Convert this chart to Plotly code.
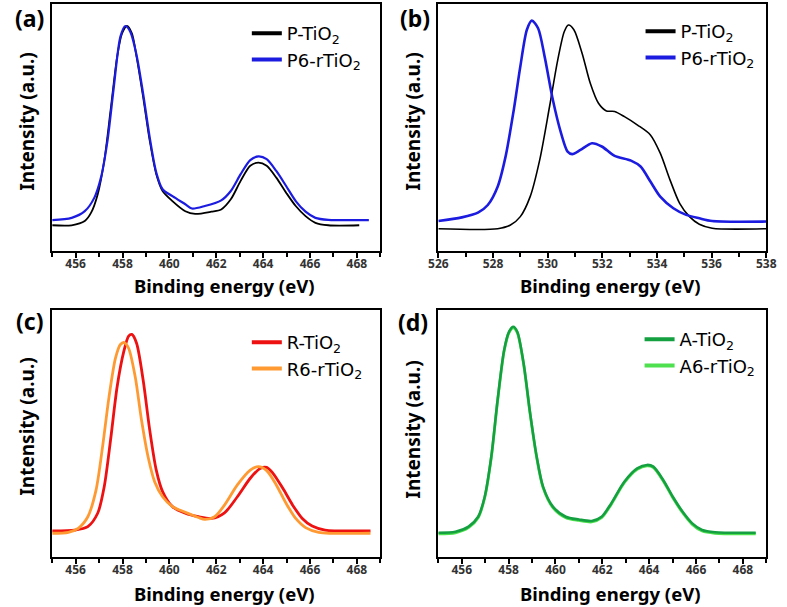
import plotly.graph_objects as go

# ---------------- data ----------------
# Panel (a): Ti 2p, P-TiO2 / P6-rTiO2
a_p_E = [455.0, 455.83, 456.39, 456.66, 456.94, 457.22, 457.49, 457.77, 457.98, 458.19,
         458.40, 458.60, 458.88, 459.16, 459.44, 459.71, 460.13, 460.68, 461.10, 461.79,
         462.21, 462.62, 463.04, 463.45, 463.80, 464.15, 464.56, 464.98, 465.39, 465.81,
         466.23, 466.78, 468.10]
a_p_I = [10.3, 10.3, 12.0, 15.4, 22.8, 36.4, 56.8, 78.5, 88.0, 91.0,
         88.0, 78.5, 62.2, 44.6, 31.0, 24.2, 20.1, 16.0, 14.9, 15.8,
         16.7, 20.8, 28.3, 34.4, 35.7, 34.4, 29.6, 23.5, 18.1, 14.0,
         11.3, 10.3, 10.3]
a_r_E = [455.0, 455.83, 456.39, 456.80, 457.08, 457.36, 457.63, 457.91, 458.12, 458.33,
         458.60, 458.88, 459.16, 459.44, 459.71, 460.13, 460.68, 460.96, 461.51, 462.21,
         462.62, 463.04, 463.45, 463.80, 464.15, 464.56, 464.98, 465.39, 465.81, 466.23,
         466.78, 468.51]
a_r_I = [12.4, 13.3, 16.0, 21.5, 29.6, 44.6, 66.3, 86.7, 91.0, 88.7,
         79.2, 63.6, 45.9, 31.7, 24.9, 22.1, 18.8, 17.1, 18.1, 20.4,
         24.2, 31.0, 36.7, 38.2, 37.1, 32.3, 26.2, 20.1, 15.8, 13.3,
         12.5, 12.4]

# Panel (b): O 1s, P-TiO2 / P6-rTiO2
b_p_E = [526.0, 528.17, 528.64, 529.00, 529.36, 529.71, 530.07, 530.37, 530.61, 530.76,
         530.96, 531.26, 531.56, 531.86, 532.15, 532.45, 532.81, 533.29, 533.76, 534.12,
         534.48, 534.83, 535.19, 535.55, 536.02, 538.0]
b_p_I = [8.9, 8.9, 10.4, 13.8, 21.9, 36.8, 58.4, 77.3, 88.8, 91.4,
         89.5, 80.0, 67.8, 59.7, 56.6, 56.4, 54.3, 50.9, 46.9, 39.5,
         28.6, 19.2, 13.8, 10.7, 9.1, 8.9]
b_r_E = [526.0, 526.86, 527.45, 527.81, 528.17, 528.46, 528.76, 529.00, 529.24, 529.42,
         529.65, 529.89, 530.19, 530.49, 530.73, 530.90, 531.20, 531.62, 531.98, 532.45,
         533.05, 533.40, 533.76, 534.12, 534.60, 535.07, 535.55, 536.02, 538.0]
b_r_I = [12.0, 13.5, 15.4, 18.5, 25.9, 38.1, 57.0, 74.6, 89.5, 93.2,
         90.1, 78.6, 61.1, 47.6, 40.1, 39.1, 40.8, 43.5, 42.2, 38.4,
         36.5, 34.1, 28.0, 21.9, 17.2, 14.5, 13.1, 12.0, 11.8]

# Panel (c): Ti 2p, R-TiO2 / R6-rTiO2
c_r_E = [455.0, 455.97, 456.52, 456.94, 457.22, 457.49, 457.77, 458.05, 458.26, 458.40,
         458.60, 458.88, 459.16, 459.44, 459.71, 460.13, 460.68, 461.24, 461.79, 462.35,
         462.90, 463.45, 463.87, 464.15, 464.42, 464.84, 465.26, 465.67, 466.09, 466.64,
         468.58]
c_r_I = [10.5, 10.8, 12.2, 17.6, 28.4, 47.3, 68.9, 83.0, 89.4, 90.1,
         86.5, 71.6, 51.4, 35.1, 26.4, 20.3, 17.6, 16.2, 15.5, 17.8,
         24.3, 31.8, 35.8, 36.2, 33.8, 27.7, 20.9, 15.5, 12.4, 10.8,
         10.5]
c_o_E = [455.0, 455.69, 456.11, 456.52, 456.87, 457.15, 457.42, 457.70, 457.91, 458.07,
         458.26, 458.54, 458.81, 459.09, 459.37, 459.71, 460.13, 460.68, 461.24, 461.51,
         461.93, 462.35, 462.90, 463.45, 463.80, 464.15, 464.56, 464.98, 465.39, 465.81,
         466.37, 468.58]
c_o_I = [9.5, 9.9, 11.5, 16.2, 27.0, 44.6, 64.5, 80.5, 86.0, 86.8,
         84.5, 73.0, 55.4, 40.5, 30.4, 24.3, 20.3, 18.0, 15.9, 15.1,
         16.2, 20.9, 29.1, 35.1, 36.5, 34.9, 29.1, 21.6, 15.5, 11.8,
         9.9, 9.5]

# Panel (d): Ti 2p, A-TiO2 / A6-rTiO2
d_E = [455.0, 455.73, 456.29, 456.70, 456.98, 457.26, 457.53, 457.81, 458.02, 458.20,
       458.37, 458.64, 458.92, 459.20, 459.47, 459.89, 460.44, 461.00, 461.55, 461.97,
       462.38, 462.94, 463.49, 463.91, 464.18, 464.60, 465.01, 465.43, 465.84, 466.26,
       466.81, 468.55]
d_a_I = [9.7, 10.1, 12.2, 16.2, 24.3, 40.5, 63.5, 83.8, 91.2, 93.2,
         91.2, 78.4, 58.1, 40.5, 28.4, 20.3, 16.2, 15.1, 14.5, 16.2,
         21.6, 30.4, 35.8, 37.2, 36.5, 31.1, 24.3, 18.2, 13.5, 10.8,
         9.9, 9.7]
d_r_I = [9.3, 9.7, 11.8, 15.8, 23.9, 40.1, 63.1, 83.4, 90.8, 92.8,
         90.8, 78.0, 57.7, 40.1, 28.0, 19.9, 15.8, 14.7, 14.1, 15.8,
         21.2, 30.0, 35.4, 36.8, 36.1, 30.7, 23.9, 17.8, 13.1, 10.4,
         9.5, 9.3]

names = {
    "a": ["P-TiO<sub>2</sub>", "P6-rTiO<sub>2</sub>"],
    "b": ["P-TiO<sub>2</sub>", "P6-rTiO<sub>2</sub>"],
    "c": ["R-TiO<sub>2</sub>", "R6-rTiO<sub>2</sub>"],
    "d": ["A-TiO<sub>2</sub>", "A6-rTiO<sub>2</sub>"],
}
panel_labels = ["(a)", "(b)", "(c)", "(d)"]
x_title = "Binding energy (eV)"
y_title = "Intensity (a.u.)"

# ---------------- styling ----------------
FONT = "Noto Sans"
LEGFONT = "DejaVu Sans"
BLACK = "#000000"
BLUE = "#1c1ce0"
RED = "#ee1111"
ORANGE = "#ff9a33"
DGREEN = "#14a040"
LGREEN = "#4ee04e"

W, H = 787, 607
dom_x = {"L": [43.3 / W, 380 / W], "R": [439.5 / W, 776 / W]}
dom_y = {"T": [1 - 250.7 / H, 1 - 3.8 / H], "B": [1 - 556.7 / H, 1 - 310 / H]}

fig = go.Figure()

panels = [
    ("a", "x", "y", "L", "T", [455, 469]),
    ("b", "x2", "y2", "R", "T", [526, 538]),
    ("c", "x3", "y3", "L", "B", [455, 469]),
    ("d", "x4", "y4", "R", "B", [455, 469]),
]

curves = {
    "a": [(a_p_E, a_p_I, BLACK, 1.8, 0), (a_r_E, a_r_I, BLUE, 2.2, 1)],
    "b": [(b_p_E, b_p_I, BLACK, 1.6, 0), (b_r_E, b_r_I, BLUE, 2.6, 1)],
    "c": [(c_r_E, c_r_I, RED, 2.8, 0), (c_o_E, c_o_I, ORANGE, 2.8, 1)],
    "d": [(d_E, d_r_I, LGREEN, 2.8, 1), (d_E, d_a_I, DGREEN, 2.6, 0)],
}
legend_colors = {
    "a": [BLACK, BLUE], "b": [BLACK, BLUE],
    "c": [RED, ORANGE], "d": [DGREEN, LGREEN],
}
legend_ids = {"a": "legend", "b": "legend2", "c": "legend3", "d": "legend4"}

for key, xa, ya, xd, yd, rng in panels:
    for E, I, col, lw, idx in curves[key]:
        fig.add_trace(go.Scatter(
            x=E, y=I, mode="lines", xaxis=xa, yaxis=ya,
            line=dict(color=col, width=lw, shape="spline", smoothing=0.8),
            name=names[key][idx], showlegend=False, hoverinfo="x+y",
        ))
    for idx in range(2):
        fig.add_trace(go.Scatter(
            x=[None], y=[None], mode="lines", xaxis=xa, yaxis=ya,
            line=dict(color=legend_colors[key][idx], width=4),
            name=names[key][idx], showlegend=True, legend=legend_ids[key],
        ))

axis_common = dict(showline=True, linecolor="black", linewidth=2, mirror=True,
                   showgrid=False, zeroline=False)
layout = dict(
    width=W, height=H, margin=dict(l=0, r=0, t=0, b=0),
    paper_bgcolor="white", plot_bgcolor="white",
    font=dict(family=FONT, color="black"),
)
for i, (key, xa, ya, xd, yd, rng) in enumerate(panels):
    xname = "xaxis" if i == 0 else f"xaxis{i+1}"
    yname = "yaxis" if i == 0 else f"yaxis{i+1}"
    layout[xname] = dict(
        axis_common, domain=dom_x[xd], range=rng, anchor=ya,
        dtick=2, tick0=0, ticks="outside", ticklen=5, tickwidth=1.5, tickcolor="black",
        ticklabelstandoff=-4,
        tickfont=dict(family=FONT, size=12, color="#333333", weight="bold"),
        minor=dict(dtick=1, ticks="outside", ticklen=4, tickwidth=1.5, tickcolor="black"),
    )
    layout[yname] = dict(
        axis_common, domain=dom_y[yd], range=[0, 100], anchor=xa,
        showticklabels=False, ticks="",
    )

leg_pos = {"a": (243, 15), "b": (647, 13), "c": (243, 324), "d": (646, 321)}
for key in "abcd":
    lx, ly = leg_pos[key]
    layout[legend_ids[key]] = dict(
        x=lx / W, y=1 - ly / H, xanchor="left", yanchor="top", xref="paper", yref="paper",
        bgcolor="rgba(0,0,0,0)", font=dict(family=LEGFONT, size=18, color="black"),
        tracegroupgap=0, itemclick=False,
    )
fig.update_layout(**layout)

ann = []
lab_pos = [(20, 18), (416, 18), (20, 321), (414, 322)]
for t, (px, py) in zip(panel_labels, lab_pos):
    ann.append(dict(text=f"<b>{t}</b>", x=px / W, y=1 - py / H, xref="paper", yref="paper",
                    showarrow=False, font=dict(family=FONT, size=23, color="black"),
                    xanchor="center", yanchor="middle"))
xt_pos = [(220, 285), (616, 285), (220, 593), (616, 593)]
for px, py in xt_pos:
    ann.append(dict(text=f"<b>{x_title}</b>", x=px / W, y=1 - py / H, xref="paper", yref="paper",
                    showarrow=False, font=dict(family=FONT, size=18.5, color="black"),
                    xanchor="center", yanchor="middle"))
yt_pos = [(17, 122), (413, 122), (17, 427), (413, 430)]
for px, py in yt_pos:
    ann.append(dict(text=f"<b>{y_title}</b>", x=px / W, y=1 - py / H, xref="paper", yref="paper",
                    showarrow=False, textangle=-90, font=dict(family=FONT, size=19, color="black"),
                    xanchor="center", yanchor="middle"))
fig.update_layout(annotations=ann)

fig.write_html("out.html", config={"displayModeBar": False},
               post_script="document.body.style.margin='0px';")
